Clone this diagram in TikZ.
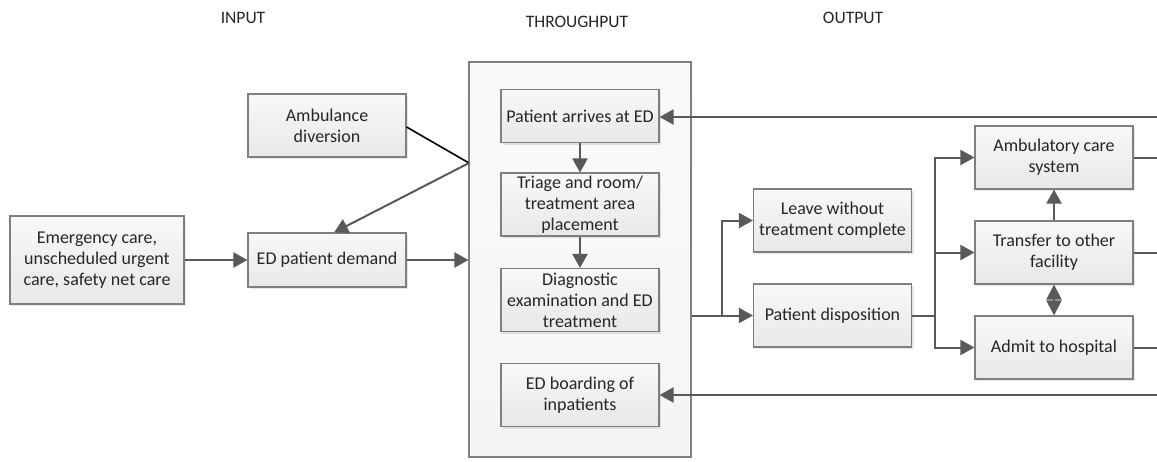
\documentclass[tikz,border=0pt]{standalone}
\usepackage{fontspec}
\setmainfont{Carlito}
\usetikzlibrary{arrows.meta,shadows}

\definecolor{linegray}{HTML}{595959}
\definecolor{boxedge}{HTML}{7F7F7F}
\definecolor{boxtop}{HTML}{F8F8F8}
\definecolor{boxbot}{HTML}{E8E8E8}

\tikzset{
  stage/.style={draw=boxedge, line width=1.1pt, top color=boxtop, bottom color=boxbot,
    align=center, minimum width=158pt, minimum height=63pt, inner sep=2pt,
    font=\fontsize{18}{21}\selectfont, text=black!85,
    drop shadow={shadow xshift=2pt, shadow yshift=-2pt, opacity=.2, fill=gray}},
  flow/.style={draw=linegray, line width=2pt, -{Triangle[length=14pt,width=15pt]}},
  link/.style={draw=linegray, line width=2pt},
  heading/.style={font=\fontsize{17.5}{20}\selectfont, text=black!85},
}

\begin{document}
\begin{tikzpicture}[x=1pt, y=-1pt]
        \useasboundingbox (0,0) rectangle (1157,461);

        % column titles
        \node[heading] (tin) at (243,18) {INPUT};
        \node[heading] (tthru) at (577,22) {THROUGHPUT};
        \node[heading] (tout) at (853,18) {OUTPUT};

        % throughput frame
        \node[draw=boxedge, line width=1.1pt, top color=white!96!gray, bottom color=white!92!gray,
              minimum width=222pt, minimum height=395pt, inner sep=0pt] (thru) at (580,259.5) {};

        % input side
        \node[stage] (ambdiv) at (327,125.5) {Ambulance\\diversion};
        \node[stage, minimum width=174pt, minimum height=88pt] (emerg) at (97,260)
            {Emergency care,\\unscheduled urgent\\care, safety net care};
        \node[stage, minimum height=54pt] (demand) at (327,260) {ED patient demand};

        % throughput steps
        \node[stage, minimum height=53pt] (arrive) at (580,116) {Patient arrives at ED};
        \node[stage] (triage) at (580,204.5) {Triage and room/\\treatment area\\placement};
        \node[stage] (diag) at (580,300) {Diagnostic\\examination and ED\\treatment};
        \node[stage] (board) at (580,395) {ED boarding of\\inpatients};

        % output side
        \node[stage] (leave) at (832.5,220.5) {Leave without\\treatment complete};
        \node[stage] (disp) at (832.5,315.5) {Patient disposition};
        \node[stage] (ambul) at (1054,157.5) {Ambulatory care\\system};
        \node[stage] (transfer) at (1054,252.5) {Transfer to other\\facility};
        \node[stage] (admit) at (1054,347.5) {Admit to hospital};

        \coordinate (join) at (469,163);
        \coordinate (split) at (722,315.5);
        \coordinate (fan) at (935,315.5);
        \coordinate (backtop) at (1157,117);
        \coordinate (backbot) at (1157,395);

        \draw[black, line width=1.6pt] (ambdiv.east |- 0,127) -- (join);
        \draw[flow] (join) -- ([xshift=7pt]demand.north);
        \draw[flow] (emerg) -- (demand);
        \draw[flow] (demand) -- (demand -| thru.west);

        \draw[flow] (arrive) -- (triage);
        \draw[flow] (triage) -- (diag);
        \draw[flow] (backtop) -- (backtop -| arrive.east);
        \draw[flow] (backbot) -- (backbot -| board.east);

        \draw[flow] (thru.east |- disp) -- (disp);
        \draw[flow] (split) |- (leave);
        \draw[link] (disp) -- (fan);
        \draw[flow] (fan) |- (ambul);
        \draw[flow] (fan |- transfer) -- (transfer);
        \draw[flow] (fan) |- (admit);
        \draw[flow] (transfer) -- (ambul);
        \draw[flow, {Triangle[length=15pt,width=15pt]}-{Triangle[length=15pt,width=15pt]}] (transfer) -- (admit);

        \draw[link] (ambul) -- (ambul -| backtop);
        \draw[link] (transfer) -- (transfer -| backtop);
        \draw[link] (admit) -- (admit -| backtop);
    \end{tikzpicture}
\end{document}
